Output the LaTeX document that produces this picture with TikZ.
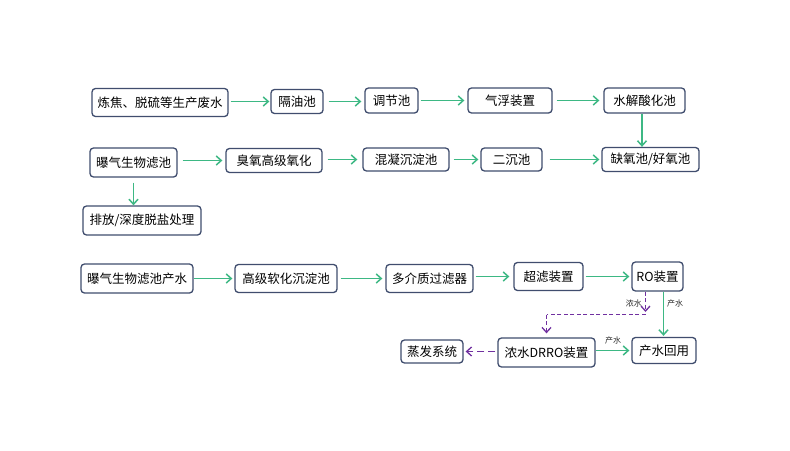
\documentclass[tikz,border=0pt]{standalone}
\usepackage{fontspec}
\setmainfont{Noto Sans CJK SC}
\usetikzlibrary{arrows.meta}
\definecolor{bx}{HTML}{404D6E}
\definecolor{gr}{HTML}{3DB884}
\definecolor{pu}{HTML}{7030A0}
\tikzset{
  box/.style={draw=bx, line width=1.3pt, rounded corners=3.5pt, fill=white, inner sep=0pt,
    font=\fontsize{12.5}{14}\selectfont},
  garr/.style={draw=gr, line width=1.8pt, -{Straight Barb[length=5pt,width=9pt,line width=1.5pt]}},
  parr/.style={draw=pu, line width=1.5pt, dash pattern=on 4pt off 2.5pt, -{Straight Barb[length=5pt,width=9pt,line width=1.3pt]}},
  pline/.style={draw=pu, line width=1.5pt, dash pattern=on 4pt off 2.5pt},
  lbl/.style={font=\fontsize{8}{9}\selectfont, inner sep=0pt, text=black!85}
}
\begin{document}
\begin{tikzpicture}[x=1pt,y=-1pt]
\fill[white] (0,0) rectangle (790,450);
\useasboundingbox (0,0) rectangle (790,450);
% row 1
\node[box, minimum width=136pt, minimum height=28pt] (n1) at (160,102.5) {炼焦、脱硫等生产废水};
\node[box, minimum width=52pt, minimum height=24pt] (n2) at (297,101.5) {隔油池};
\node[box, minimum width=53pt, minimum height=25pt] (n3) at (391.5,100.5) {调节池};
\node[box, minimum width=84pt, minimum height=25pt] (n4) at (510,100.5) {气浮装置};
\node[box, minimum width=81pt, minimum height=25pt] (n5) at (644.5,100.5) {水解酸化池};
% row 2
\node[box, minimum width=87pt, minimum height=29pt] (m1) at (133.5,162.5) {曝气生物滤池};
\node[box, minimum width=96pt, minimum height=24pt] (m2) at (274,160.5) {臭氧高级氧化};
\node[box, minimum width=86pt, minimum height=23pt] (m3) at (406,159.5) {混凝沉淀池};
\node[box, minimum width=61pt, minimum height=23pt] (m4) at (511.5,159.5) {二沉池};
\node[box, minimum width=97pt, minimum height=24pt] (m5) at (650.5,159.5) {缺氧池/好氧池};
\node[box, minimum width=118pt, minimum height=29pt] (m6) at (142,220.5) {排放/深度脱盐处理};
% row 3
\node[box, minimum width=112pt, minimum height=29pt] (r1) at (137,278.5) {曝气生物滤池产水};
\node[box, minimum width=102pt, minimum height=28pt] (r2) at (286,278.5) {高级软化沉淀池};
\node[box, minimum width=87pt, minimum height=28pt] (r3) at (429.5,278.5) {多介质过滤器};
\node[box, minimum width=69pt, minimum height=28pt] (r4) at (548.5,276.5) {超滤装置};
\node[box, minimum width=51pt, minimum height=29pt] (r5) at (657.5,276.5) {RO装置};
\node[box, minimum width=64pt, minimum height=26pt] (r6) at (664,350.5) {产水回用};
\node[box, minimum width=97pt, minimum height=29pt] (r7) at (546.5,352.5) {浓水DRRO装置};
\node[box, minimum width=62pt, minimum height=23pt] (r8) at (432,351.5) {蒸发系统};
% row 1 arrows
\draw[garr, shorten <=2pt, shorten >=1pt] (n1.east |- n2.west) -- (n2.west);
\draw[garr, shorten <=5pt, shorten >=3pt] (n2.east) -- (n3.west |- n2.east);
\draw[garr, shorten <=2pt, shorten >=3pt] (n3.east) -- (n4.west);
\draw[garr, shorten <=4pt, shorten >=4pt] (n4.east) -- (n5.west);
\draw[garr] ([xshift=-2.5pt]n5.south) -- ([xshift=-2.5pt]n5.south |- m5.north);
% row 2 arrows
\draw[garr, shorten <=5pt, shorten >=3pt] (m1.east |- m2.west) -- (m2.west);
\draw[garr, shorten <=5pt, shorten >=5pt] (m2.east |- m3.west) -- (m3.west);
\draw[garr, shorten <=4pt, shorten >=2pt] (m3.east) -- (m4.west);
\draw[garr, shorten <=7pt, shorten >=2pt] (m4.east) -- (m5.west |- m4.east);
\draw[garr, shorten <=5pt] (m1.south) -- (m1.south |- m6.north);
% row 3 arrows
\draw[garr, shorten >=2pt] (r1.east) -- (r2.west);
\draw[garr, shorten <=3pt, shorten >=3pt] (r2.east) -- (r3.west);
\draw[garr, shorten <=2pt, shorten >=4pt] (r3.east |- r4.west) -- (r4.west);
\draw[garr, shorten <=2pt, shorten >=2pt] (r4.east) -- (r5.west);
\draw[garr, shorten >=1pt] ([xshift=-0.5pt]r6.north |- r5.south) -- ([xshift=-0.5pt]r6.north);
\node[lbl, anchor=west] (l1) at (667,303) {产水};
\draw[garr, shorten >=2pt] (r7.east |- r6.west) -- (r6.west);
\node[lbl] (l2) at (613,340.5) {产水};
% dashed concentrate lines
\coordinate (k0) at (645.5,312);
\coordinate (k1) at (645.5,314.5);
\coordinate (k2) at (546.5,314.5);
\draw[parr] (r5.south -| k0) -- (k0);
\draw[pline] (k1) -- (k2);
\draw[parr, shorten >=4pt] (k2) -- (k2 |- r7.north);
\node[lbl, anchor=east] (l3) at (642,303) {浓水};
\draw[parr, dash pattern=on 7pt off 4pt, shorten <=2pt, shorten >=2pt] (r7.west |- r8.east) -- (r8.east);
\end{tikzpicture}
\end{document}
